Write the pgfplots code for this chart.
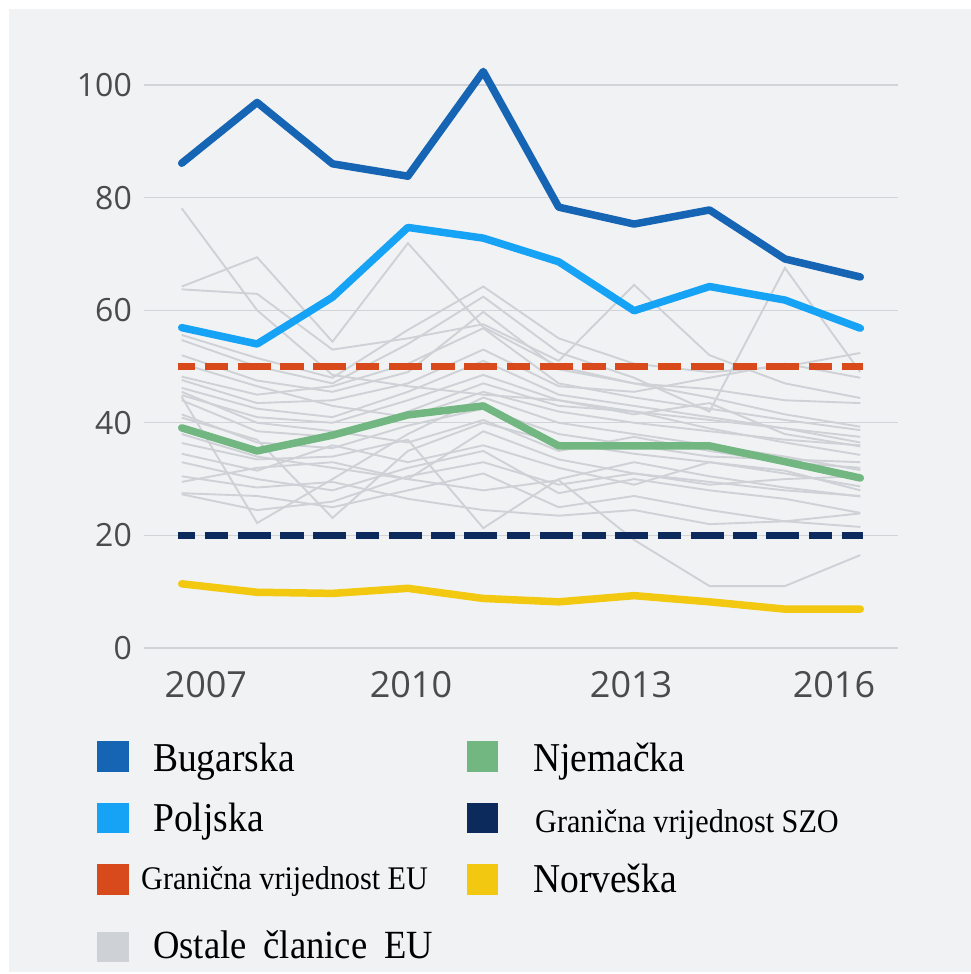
\documentclass[border=0pt]{standalone}
\usepackage{fontspec}
\usepackage{pgfplots}
\pgfplotsset{compat=1.18}
\newfontfamily\tickfont{Open Sans}
\newfontfamily\legfont{Liberation Serif}[FakeStretch=0.915]
\definecolor{bgc}{RGB}{241,242,244}
\definecolor{gridc}{RGB}{208,211,215}
\definecolor{greyc}{RGB}{206,209,214}
\definecolor{tickc}{RGB}{75,75,78}
\definecolor{bulc}{RGB}{22,100,180}
\definecolor{polc}{RGB}{22,163,245}
\definecolor{gerc}{RGB}{114,182,129}
\definecolor{euc}{RGB}{216,74,27}
\definecolor{whoc}{RGB}{12,43,92}
\definecolor{norc}{RGB}{242,200,17}
\begin{document}
\begin{tikzpicture}
\useasboundingbox (0pt,0pt) rectangle (971pt,974pt);
\fill[white] (0pt,0pt) rectangle (971pt,974pt);
\fill[bgc] (9pt,2pt) rectangle (971pt,965pt);
\begin{axis}[
  at={(144pt,326pt)}, anchor=south west,
  scale only axis, width=754pt, height=591.15pt,
  xmin=2006.5, xmax=2016.5, ymin=0, ymax=105,
  clip=false,
  axis line style={draw=none},
  major tick length=0pt,
  ytick={0,20,40,60,80,100},
  yticklabels={0,20,40,60,80,100},
  xtick={2007.32,2010.04,2012.96,2015.65},
  xticklabels={2007,2010,2013,2016},
  ymajorgrids,
  grid style={gridc, line width=1.3pt},
  xticklabel style={font=\tickfont\fontsize{36}{36}\selectfont, text=tickc, inner sep=0pt, anchor=north, yshift=-23pt},
  yticklabel style={font=\tickfont\fontsize{32}{32}\selectfont, text=tickc, inner sep=0pt, anchor=east, xshift=-12pt},
]
% Ostale clanice EU
\addplot[greyc, line width=1.9pt] coordinates {(2007,78.1) (2008,60.0) (2009,48.5) (2010,46.5) (2011,45.0) (2012,44.0) (2013,42.0) (2014,40.5) (2015,39.0) (2016,37.5)};
\addplot[greyc, line width=1.9pt] coordinates {(2007,64.2) (2008,69.4) (2009,54.4) (2010,71.9) (2011,57.0) (2012,50.0) (2013,47.0) (2014,46.0) (2015,44.0) (2016,43.5)};
\addplot[greyc, line width=1.9pt] coordinates {(2007,63.7) (2008,62.9) (2009,53.0) (2010,55.0) (2011,57.5) (2012,51.0) (2013,64.5) (2014,52.0) (2015,47.0) (2016,44.4)};
\addplot[greyc, line width=1.9pt] coordinates {(2007,55.6) (2008,51.5) (2009,48.0) (2010,56.5) (2011,64.2) (2012,55.0) (2013,50.5) (2014,49.0) (2015,50.0) (2016,52.4)};
\addplot[greyc, line width=1.9pt] coordinates {(2007,54.7) (2008,50.0) (2009,47.0) (2010,54.0) (2011,62.4) (2012,52.5) (2013,48.0) (2014,42.0) (2015,67.5) (2016,49.0)};
\addplot[greyc, line width=1.9pt] coordinates {(2007,52.0) (2008,47.5) (2009,45.5) (2010,49.0) (2011,59.7) (2012,49.5) (2013,47.0) (2014,44.5) (2015,41.5) (2016,39.3)};
\addplot[greyc, line width=1.9pt] coordinates {(2007,48.2) (2008,45.0) (2009,46.5) (2010,50.5) (2011,56.8) (2012,47.0) (2013,44.5) (2014,42.5) (2015,40.5) (2016,38.7)};
\addplot[greyc, line width=1.9pt] coordinates {(2007,47.6) (2008,43.5) (2009,44.0) (2010,47.0) (2011,53.0) (2012,46.5) (2013,45.5) (2014,48.0) (2015,50.5) (2016,48.0)};
\addplot[greyc, line width=1.9pt] coordinates {(2007,46.2) (2008,42.5) (2009,41.0) (2010,45.5) (2011,51.0) (2012,45.0) (2013,43.0) (2014,41.0) (2015,39.0) (2016,36.5)};
\addplot[greyc, line width=1.9pt] coordinates {(2007,44.9) (2008,41.0) (2009,40.0) (2010,44.0) (2011,48.5) (2012,44.0) (2013,41.5) (2014,43.5) (2015,38.0) (2016,35.8)};
\addplot[greyc, line width=1.9pt] coordinates {(2007,44.0) (2008,38.5) (2009,37.5) (2010,42.0) (2011,47.0) (2012,43.0) (2013,42.0) (2014,39.0) (2015,36.5) (2016,34.3)};
\addplot[greyc, line width=1.9pt] coordinates {(2007,44.6) (2008,22.2) (2009,30.0) (2010,38.0) (2011,44.5) (2012,40.0) (2013,38.0) (2014,36.0) (2015,34.0) (2016,31.6)};
\addplot[greyc, line width=1.9pt] coordinates {(2007,40.9) (2008,37.0) (2009,23.1) (2010,35.0) (2011,40.0) (2012,36.5) (2013,34.5) (2014,33.0) (2015,31.0) (2016,28.7)};
\addplot[greyc, line width=1.9pt] coordinates {(2007,36.4) (2008,33.5) (2009,34.0) (2010,37.0) (2011,21.3) (2012,30.0) (2013,33.0) (2014,30.5) (2015,28.5) (2016,26.9)};
\addplot[greyc, line width=1.9pt] coordinates {(2007,33.0) (2008,30.0) (2009,28.0) (2010,32.0) (2011,35.0) (2012,27.5) (2013,30.0) (2014,28.0) (2015,26.5) (2016,24.0)};
\addplot[greyc, line width=1.9pt] coordinates {(2007,29.5) (2008,32.0) (2009,33.0) (2010,30.0) (2011,28.0) (2012,29.8) (2013,19.2) (2014,11.0) (2015,11.0) (2016,16.5)};
\addplot[greyc, line width=1.9pt] coordinates {(2007,27.5) (2008,27.0) (2009,25.0) (2010,28.0) (2011,31.0) (2012,25.0) (2013,27.0) (2014,24.5) (2015,22.5) (2016,21.5)};
\addplot[greyc, line width=1.9pt] coordinates {(2007,27.3) (2008,24.5) (2009,26.0) (2010,30.5) (2011,33.0) (2012,29.0) (2013,31.0) (2014,29.0) (2015,30.0) (2016,30.5)};
\addplot[greyc, line width=1.9pt] coordinates {(2007,50.5) (2008,46.5) (2009,43.0) (2010,41.0) (2011,45.5) (2012,42.0) (2013,40.0) (2014,38.5) (2015,37.0) (2016,36.0)};
\addplot[greyc, line width=1.9pt] coordinates {(2007,41.5) (2008,36.5) (2009,35.5) (2010,39.5) (2011,42.5) (2012,38.0) (2013,36.0) (2014,34.0) (2015,33.5) (2016,33.0)};
\addplot[greyc, line width=1.9pt] coordinates {(2007,38.0) (2008,34.0) (2009,32.0) (2010,30.0) (2011,38.5) (2012,33.5) (2013,31.0) (2014,29.5) (2015,28.0) (2016,27.0)};
\addplot[greyc, line width=1.9pt] coordinates {(2007,45.5) (2008,40.0) (2009,38.5) (2010,36.5) (2011,40.5) (2012,35.0) (2013,37.5) (2014,35.0) (2015,33.0) (2016,32.0)};
\addplot[greyc, line width=1.9pt] coordinates {(2007,30.5) (2008,28.5) (2009,29.5) (2010,26.5) (2011,24.5) (2012,23.5) (2013,24.5) (2014,22.0) (2015,22.5) (2016,23.9)};
\addplot[greyc, line width=1.9pt] coordinates {(2007,34.5) (2008,31.5) (2009,36.0) (2010,33.0) (2011,36.0) (2012,32.0) (2013,29.0) (2014,33.0) (2015,31.5) (2016,28.0)};
% limits
\addplot[euc, line width=7.5pt, dash pattern=on 33pt off 9.5pt on 23.5pt off 9.5pt, dash phase=16pt] coordinates {(2006.951,50) (2016.04,50)};
\addplot[whoc, line width=7.5pt, dash pattern=on 33pt off 9.5pt on 23.5pt off 9.5pt, dash phase=16pt] coordinates {(2006.951,20) (2016.04,20)};
% countries
\addplot[norc, line width=7.5pt, line join=round, line cap=round] coordinates {(2007,11.4) (2008,9.9) (2009,9.7) (2010,10.6) (2011,8.8) (2012,8.2) (2013,9.3) (2014,8.2) (2015,6.9) (2016,6.9)};
\addplot[gerc, line width=7.5pt, line join=round, line cap=round] coordinates {(2007,39.1) (2008,35.0) (2009,37.8) (2010,41.4) (2011,43.0) (2012,35.9) (2013,35.9) (2014,35.9) (2015,33.1) (2016,30.2)};
\addplot[polc, line width=7.5pt, line join=round, line cap=round] coordinates {(2007,56.9) (2008,54.0) (2009,62.3) (2010,74.7) (2011,72.8) (2012,68.6) (2013,59.9) (2014,64.2) (2015,61.8) (2016,56.8)};
\addplot[bulc, line width=7.5pt, line join=round, line cap=round] coordinates {(2007,86.1) (2008,96.9) (2009,86.0) (2010,83.8) (2011,102.4) (2012,78.3) (2013,75.3) (2014,77.8) (2015,69.1) (2016,65.9)};
\end{axis}
% legend
\fill[bulc] (97pt,202pt) rectangle (129pt,233pt);
\node[anchor=base west, inner sep=0pt, font=\legfont\fontsize{41}{41}\selectfont] at (153pt,202pt) {Bugarska};
\fill[gerc] (467pt,202pt) rectangle (498pt,233pt);
\node[anchor=base west, inner sep=0pt, font=\legfont\fontsize{41}{41}\selectfont] at (533pt,202pt) {Njemačka};
\fill[polc] (97pt,141pt) rectangle (129pt,171pt);
\node[anchor=base west, inner sep=0pt, font=\legfont\fontsize{41}{41}\selectfont] at (153pt,142pt) {Poljska};
\fill[whoc] (467pt,141pt) rectangle (498pt,171pt);
\node[anchor=base west, inner sep=0pt, font=\legfont\fontsize{33}{33}\selectfont] at (535pt,141pt) {Granična vrijednost SZO};
\fill[euc] (97pt,79pt) rectangle (129pt,110pt);
\node[anchor=base west, inner sep=0pt, font=\legfont\fontsize{33}{33}\selectfont] at (141pt,84pt) {Granična vrijednost EU};
\fill[norc] (467pt,79pt) rectangle (498pt,110pt);
\node[anchor=base west, inner sep=0pt, font=\legfont\fontsize{41}{41}\selectfont] at (533pt,81pt) {Norveška};
\fill[greyc] (97pt,12pt) rectangle (129pt,42pt);
\node[anchor=base west, inner sep=0pt, font=\legfont\fontsize{40}{40}\selectfont] at (153pt,16pt) {Ostale\hspace{17pt}članice\hspace{17pt}EU};
\end{tikzpicture}
\end{document}
